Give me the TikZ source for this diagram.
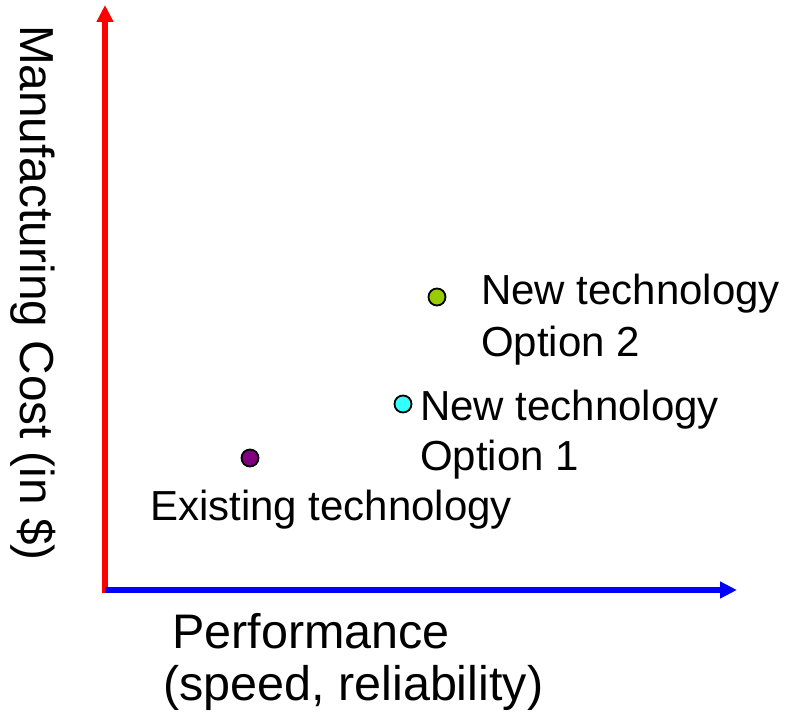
\documentclass[tikz,border=0pt]{standalone}
\usepackage{fontspec}
\setmainfont{Liberation Sans}
\usetikzlibrary{arrows.meta}
\definecolor{dotpurple}{RGB}{128,0,128}
\definecolor{dotcyan}{RGB}{51,255,255}
\definecolor{dotgreen}{RGB}{153,204,0}
\tikzset{
  ptlabel/.style={inner sep=0pt, anchor=base west, font=\fontsize{42}{50}\selectfont},
  axlabel/.style={inner sep=0pt, anchor=base west, font=\fontsize{48.5}{56}\selectfont},
  dot/.style={circle, draw=black, line width=1.8pt, minimum size=17pt, inner sep=0pt},
  axisline/.style={line width=5.5pt, -{Triangle[length=17pt,width=16pt]}}
}
\begin{document}
\begin{tikzpicture}[x=1pt,y=1pt]
\useasboundingbox (0,0) rectangle (786,712);
\coordinate (origin) at (105,122);
\coordinate (ytip) at (105,707);
\coordinate (xtip) at (737,122);
\draw[axisline, red] (105,119) -- (ytip);
\draw[axisline, blue] (origin) -- (xtip);
\node[dot, fill=dotpurple] (existing) at (250,254) {};
\node[dot, fill=dotcyan] (opt1) at (403,308) {};
\node[dot, fill=dotgreen] (opt2) at (437,415) {};
\node[ptlabel] (opt2a) at (481,407) {New technology};
\node[ptlabel] (opt2b) at (481,355) {Option 2};
\node[ptlabel] (opt1a) at (420,291) {New technology};
\node[ptlabel] (opt1b) at (420,241) {Option 1};
\node[ptlabel] (exist) at (150,191) {Existing technology};
\node[axlabel] (perfa) at (172,64) {Performance};
\node[axlabel] (perfb) at (163,12) {(speed, reliability)};
\node[inner sep=0pt, anchor=base west, rotate=-90, font=\fontsize{47.7}{56}\selectfont] (ylab) at (20,687) {Manufacturing Cost (in \$)};
\end{tikzpicture}
\end{document}
